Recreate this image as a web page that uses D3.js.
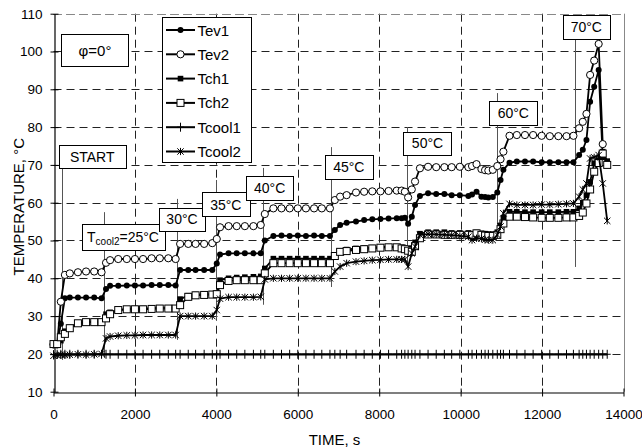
<!DOCTYPE html>
<html>
<head>
<meta charset="utf-8">
<script src="https://cdn.jsdelivr.net/npm/d3@7"></script>
<style>
  html, body { margin: 0; padding: 0; background: #fff; }
  svg { display: block; font-family: "Liberation Sans", Arial, sans-serif; }
</style>
</head>
<body>
<svg id="chart" width="642" height="447"></svg>
<script>
// Measurement times, s (shared by all six channels)
const time = [0, 90, 180, 280, 400, 600, 800, 1000, 1180, 1290, 1390, 1590, 1800, 2000, 2200, 2410, 2610, 2820, 3000,
  3110, 3310, 3490, 3700, 3900, 4010, 4090, 4300, 4500, 4700, 4910, 5090, 5190, 5400, 5600, 5800, 6000, 6200, 6400,
  6590, 6790, 6910, 7040, 7200, 7430, 7630, 7830, 8030, 8230, 8430, 8550, 8630, 8710, 8800, 8880, 9000, 9200, 9400,
  9600, 9780, 9980, 10190, 10280, 10390, 10510, 10600, 10680, 10790, 10900, 10980, 11050, 11200, 11380, 11580, 11780,
  11990, 12190, 12400, 12600, 12770, 12910, 13000, 13090, 13180, 13280, 13390, 13490, 13600];

// Temperatures, °C
const tev1 = [22.4, 22.4, 28.0, 34.7, 34.9, 34.9, 34.9, 34.9, 34.7, 37.2, 38.0, 38.0, 38.1, 38.1, 38.1, 38.2, 38.2, 38.2, 38.1,
  42.2, 42.2, 42.2, 42.2, 42.2, 43.9, 46.3, 46.6, 46.6, 46.6, 46.6, 46.6, 50.0, 51.2, 51.3, 51.2, 51.3, 51.2, 51.3,
  51.2, 51.2, 52.8, 54.1, 54.7, 55.0, 55.4, 55.6, 55.7, 55.8, 55.9, 55.9, 56.0, 54.4, 56.3, 59.4, 61.8, 62.5, 62.3,
  62.3, 62.0, 62.0, 61.8, 62.2, 62.9, 61.6, 61.5, 61.4, 61.5, 62.7, 66.0, 68.7, 70.6, 70.9, 70.9, 70.9,
  70.7, 70.7, 70.7, 70.7, 70.7, 72.6, 74.0, 76.6, 86.7, 90.7, 95.1, 72.0, null];
const tev2 = [22.5, 22.5, 33.8, 40.9, 41.3, 41.6, 41.8, 41.8, 41.6, 44.1, 44.8, 45.1, 45.1, 45.1, 45.1, 45.3, 45.3, 45.3, 45.1,
  49.1, 49.1, 49.1, 49.1, 49.3, 50.4, 53.5, 53.8, 53.8, 53.8, 53.8, 54.1, 57.0, 58.5, 58.5, 58.5, 58.5, 58.5, 58.5,
  58.5, 58.5, 60.7, 61.6, 62.0, 62.7, 62.9, 63.0, 63.0, 63.1, 63.2, 63.2, 62.9, 61.4, 63.5, 65.6, 69.1, 69.5, 69.4,
  69.4, 69.4, 69.5, 69.4, 69.7, 70.2, 68.9, 68.6, 68.5, 68.7, 69.7, 71.5, 73.5, 77.7, 77.9, 77.9, 77.9,
  77.7, 77.6, 77.6, 77.6, 77.7, 79.7, 81.4, 83.5, 93.8, 97.6, 102.0, 75.5, null];
const tch1 = [22.5, 22.5, 23.5, 26.0, 27.0, 28.2, 28.5, 28.5, 28.5, 30.5, 31.0, 31.6, 31.9, 32.0, 32.0, 32.1, 32.2, 32.2, 32.2,
  34.5, 35.4, 35.7, 35.8, 35.9, 36.0, 39.5, 40.0, 40.2, 40.3, 40.4, 40.5, 42.6, 45.2, 45.2, 45.2, 45.2, 45.2, 45.2,
  45.2, 45.2, 46.2, 47.2, 47.6, 47.9, 48.0, 48.1, 48.3, 48.3, 48.3, 48.2, 48.0, 47.6, 48.0, 49.5, 51.8, 52.2, 52.2,
  52.2, 52.0, 52.0, 52.0, 51.8, 52.1, 51.9, 51.8, 51.7, 51.7, 52.2, 54.0, 56.0, 57.6, 57.6, 57.5, 57.5,
  57.5, 57.5, 57.5, 57.6, 57.6, 58.5, 60.0, 62.0, 65.5, 70.4, 71.3, 73.5, 71.0];
const tch2 = [22.6, 22.6, 24.4, 25.3, 26.8, 28.1, 28.4, 28.4, 28.4, 29.4, 30.5, 31.6, 31.8, 31.8, 31.8, 31.9, 32.0, 32.0, 32.0,
  32.9, 35.1, 35.5, 35.6, 35.7, 35.8, 38.2, 39.3, 39.5, 39.5, 39.5, 39.5, 41.3, 44.0, 44.0, 44.0, 44.0, 44.0, 44.0,
  44.0, 44.0, 45.9, 47.0, 47.2, 47.5, 47.7, 47.9, 48.1, 48.2, 48.2, 47.9, 47.7, 47.3, 47.0, 48.5, 50.6, 51.6, 51.6,
  51.5, 51.5, 51.5, 51.5, 51.4, 51.9, 51.5, 51.3, 51.2, 51.2, 51.5, 53.0, 54.5, 56.3, 56.3, 56.2, 56.1,
  56.0, 56.0, 56.0, 56.1, 56.1, 56.5, 57.4, 59.8, 63.5, 68.2, 70.5, 73.0, 70.0];
const tcool1 = [19.8, 19.9, 19.9, 19.9, 19.9, 19.9, 19.9, 19.9, 19.9, 19.9, 19.9, 19.9, 19.9, 19.9, 19.9, 19.9, 19.9, 19.9, 19.9,
  19.9, 19.9, 19.9, 19.9, 19.9, 19.9, 19.9, 19.9, 19.9, 19.9, 19.9, 19.9, 19.9, 19.9, 19.9, 19.9, 19.9, 19.9, 19.9,
  19.9, 19.9, 19.9, 19.9, 19.9, 19.9, 19.9, 19.9, 19.9, 19.9, 19.9, 19.9, 19.9, 19.9, 19.9, 19.9, 19.9, 19.9, 19.9,
  19.9, 19.9, 19.9, 19.9, 19.9, 19.9, 19.9, 19.9, 19.9, 19.9, 19.9, 19.9, 19.9, 19.9, 19.9, 19.9, 19.9,
  19.9, 19.9, 19.9, 19.9, 19.9, 19.9, 19.9, 19.9, 19.9, 19.9, 19.9, 19.9, 19.9];
const tcool2 = [19.5, 19.6, 19.8, 19.7, 19.8, 19.9, 19.8, 19.9, 20.0, 24.1, 24.6, 24.8, 24.9, 24.9, 25.0, 25.0, 25.0, 25.0, 25.0,
  30.0, 30.0, 30.0, 30.0, 30.0, 31.6, 34.6, 35.0, 35.0, 35.0, 35.0, 35.1, 39.7, 40.0, 40.0, 40.0, 40.0, 40.0, 40.0,
  40.0, 40.0, 41.8, 43.1, 44.0, 44.4, 44.6, 44.8, 44.9, 45.0, 45.0, 45.0, 45.0, 43.1, 46.6, 48.4, 51.5, 51.7, 51.6,
  51.5, 51.4, 51.2, 51.0, 50.1, 50.6, 50.5, 50.2, 50.1, 50.1, 51.5, 53.7, 57.2, 59.7, 59.4, 59.4, 59.4,
  59.5, 59.5, 59.6, 59.7, 59.8, 61.6, 63.5, 65.1, 71.7, 72.0, 72.6, 65.1, 55.2];

const seriesNames = ["Tev1", "Tev2", "Tch1", "Tch2", "Tcool1", "Tcool2"];
const seriesValues = [tev1, tev2, tch1, tch2, tcool1, tcool2];

// Axis ticks
const xTicks = [0, 2000, 4000, 6000, 8000, 10000, 12000, 14000];
const yTicks = [10, 20, 30, 40, 50, 60, 70, 80, 90, 100, 110];

// Set-point change marks: time, label, marker line extent (°C)
const markTimes  = [200, 1240, 3025, 3983, 5137, 6808, 8690, 10885, 12808];
const markLabels = ["START", "T_cool2=25°C", "30°C", "35°C", "40°C", "45°C", "50°C", "60°C", "70°C"];
const markTop    = [75.0, 57.5, 61.0, 66.0, 69.2, 74.7, 80.0, 89.0, 103.3];
const markBottom = [18.4, 18.9, 23.7, 29.0, 33.0, 37.7, 43.0, 50.7, 43.0];

// ---- layout ----
const svg = d3.select("#chart");
const x = d3.scaleLinear().domain([0, 14000]).range([53.5, 623.5]);
const y = d3.scaleLinear().domain([10, 110]).range([391.7, 13.7]);

// label boxes [left, top, width, height] in px
const markBoxes = [
  [58.7, 145, 67, 23], [81.7, 224.3, 82.6, 25.7], [159, 207.7, 46, 23.3], [201.7, 192.3, 48.3, 24.4],
  [246, 176, 47.3, 24], [325, 155, 47.7, 24], [403.3, 131.7, 48.4, 23.3], [489.3, 100.7, 48, 24.3],
  [562.7, 15, 47.3, 24.3]
];

// grid
const grid = svg.append("g").attr("stroke", "#222").attr("stroke-width", 1).attr("stroke-dasharray", "8,5");
grid.selectAll("line.h").data(yTicks.filter(v => v > 10)).join("line")
  .attr("x1", x(0)).attr("x2", x(14000))
  .attr("y1", d => Math.round(y(d)) + 0.5).attr("y2", d => Math.round(y(d)) + 0.5);
grid.selectAll("line.v").data(xTicks.filter(v => v > 0 && v < 14000)).join("line")
  .attr("y1", y(110)).attr("y2", y(10))
  .attr("x1", d => Math.round(x(d)) + 0.5).attr("x2", d => Math.round(x(d)) + 0.5);

// right / top frame
svg.append("line").attr("x1", Math.round(x(14000)) + 0.5).attr("x2", Math.round(x(14000)) + 0.5)
  .attr("y1", y(110)).attr("y2", y(10)).attr("stroke", "#888").attr("stroke-width", 1);
svg.append("line").attr("x1", x(0)).attr("x2", x(14000))
  .attr("y1", Math.round(y(110)) + 0.5).attr("y2", Math.round(y(110)) + 0.5)
  .attr("stroke", "#888").attr("stroke-width", 1).attr("stroke-dasharray", "8,5");

// set-point marker lines
svg.append("g").selectAll("line").data(markTimes).join("line")
  .attr("x1", d => Math.round(x(d)) + 0.5).attr("x2", d => Math.round(x(d)) + 0.5)
  .attr("y1", (d, i) => y(markTop[i])).attr("y2", (d, i) => y(markBottom[i]))
  .attr("stroke", "#555").attr("stroke-width", 1);

// axes
const xAxis = d3.axisBottom(x).tickValues(xTicks).tickFormat(d3.format("d")).tickSizeInner(4).tickSizeOuter(0).tickPadding(13);
const gx = svg.append("g").attr("transform", `translate(0,${Math.round(y(10)) + 0.5})`).call(xAxis);
gx.selectAll(".tick line").attr("y1", -4).attr("y2", 4);
const yAxis = d3.axisLeft(y).tickValues(yTicks).tickSizeInner(4).tickSizeOuter(0).tickPadding(8);
const gy = svg.append("g").attr("transform", `translate(${Math.round(x(0)) + 0.5},0)`).call(yAxis);
gy.selectAll(".tick line").attr("x1", -4).attr("x2", 4);
[gx, gy].forEach(g => {
  g.select(".domain").attr("stroke", "#000").attr("stroke-width", 1.2);
  g.selectAll(".tick line").attr("stroke", "#000");
  g.selectAll(".tick text").attr("font-size", 13.5).attr("fill", "#000")
    .attr("font-family", "'Liberation Sans', Arial, sans-serif");
});

// axis titles
svg.append("text").attr("x", x(7000) - 4).attr("y", 445).attr("text-anchor", "middle")
  .attr("font-size", 15).text("TIME, s");
svg.append("text").attr("transform", `translate(24,${(y(10) + y(110)) / 2 + 4}) rotate(-90)`)
  .attr("text-anchor", "middle").attr("font-size", 15).text("TEMPERATURE, °C");

// marker symbols
function drawMarker(g, kind) {
  switch (kind) {
    case "Tev1": g.append("circle").attr("r", 3).attr("fill", "#000"); break;
    case "Tev2": g.append("circle").attr("r", 3.6).attr("fill", "#fff").attr("stroke", "#000").attr("stroke-width", 1); break;
    case "Tch1": g.append("rect").attr("x", -2.8).attr("y", -2.8).attr("width", 5.6).attr("height", 5.6).attr("fill", "#000"); break;
    case "Tch2": g.append("rect").attr("x", -3.5).attr("y", -3.5).attr("width", 7).attr("height", 7)
      .attr("fill", "#fff").attr("stroke", "#000").attr("stroke-width", 1); break;
    case "Tcool1": g.append("path").attr("d", "M-3.5,0H3.5M0,-4.5V4.5").attr("stroke", "#000").attr("stroke-width", 1); break;
    case "Tcool2": g.append("path").attr("d", "M-3.2,-3.2L3.2,3.2M-3.2,3.2L3.2,-3.2M0,-3.6V3.6").attr("stroke", "#000").attr("stroke-width", 1); break;
  }
}

// series
const lineGen = d3.line().defined(d => d.v != null).x(d => x(d.t)).y(d => y(d.v));
const plot = svg.append("g");
seriesNames.forEach((name, si) => {
  const pts = time.map((t, i) => ({ t, v: seriesValues[si][i] }));
  const g = plot.append("g");
  g.append("path").attr("d", lineGen(pts)).attr("fill", "none").attr("stroke", "#000")
    .attr("stroke-width", name === "Tcool1" ? 2.2 : 1.8).attr("stroke-linejoin", "round");
  g.selectAll("g.m").data(pts.filter(d => d.v != null)).join("g")
    .attr("transform", d => `translate(${x(d.t)},${y(d.v)})`)
    .each(function () { drawMarker(d3.select(this), name); });
});

// label boxes
const boxes = svg.append("g");
markLabels.forEach((lab, i) => {
  const [bx, by, bw, bh] = markBoxes[i];
  boxes.append("rect").attr("x", Math.round(bx) + 0.5).attr("y", Math.round(by) + 0.5)
    .attr("width", Math.round(bw)).attr("height", Math.round(bh))
    .attr("fill", "#fff").attr("stroke", "#000").attr("stroke-width", 1);
  const t = boxes.append("text").attr("x", bx + bw / 2).attr("y", by + bh / 2 + 5)
    .attr("text-anchor", "middle").attr("font-size", 14);
  if (lab.startsWith("T_")) {
    t.append("tspan").text("T");
    t.append("tspan").attr("font-size", 10).attr("dy", 3).text("cool2");
    t.append("tspan").attr("dy", -3).text("=25°C");
  } else {
    t.text(lab);
  }
});

// angle box
svg.append("rect").attr("x", 61.5).attr("y", 34.5).attr("width", 67).attr("height", 32)
  .attr("fill", "#fff").attr("stroke", "#000");
svg.append("text").attr("x", 95).attr("y", 56).attr("text-anchor", "middle").attr("font-size", 15).text("φ=0°");

// legend
const leg = svg.append("g");
leg.append("rect").attr("x", 162.5).attr("y", 17.5).attr("width", 89).attr("height", 145)
  .attr("fill", "#fff").attr("stroke", "#000");
seriesNames.forEach((name, i) => {
  const cy = 30 + i * 24.3;
  const row = leg.append("g").attr("transform", `translate(0,${cy})`);
  row.append("line").attr("x1", 166).attr("x2", 195).attr("y1", 0).attr("y2", 0)
    .attr("stroke", "#000").attr("stroke-width", 2);
  drawMarker(row.append("g").attr("transform", "translate(180.5,0)"), name);
  row.append("text").attr("x", 197.5).attr("y", 5.5).attr("font-size", 15).text(name);
});
</script>
</body>
</html>
